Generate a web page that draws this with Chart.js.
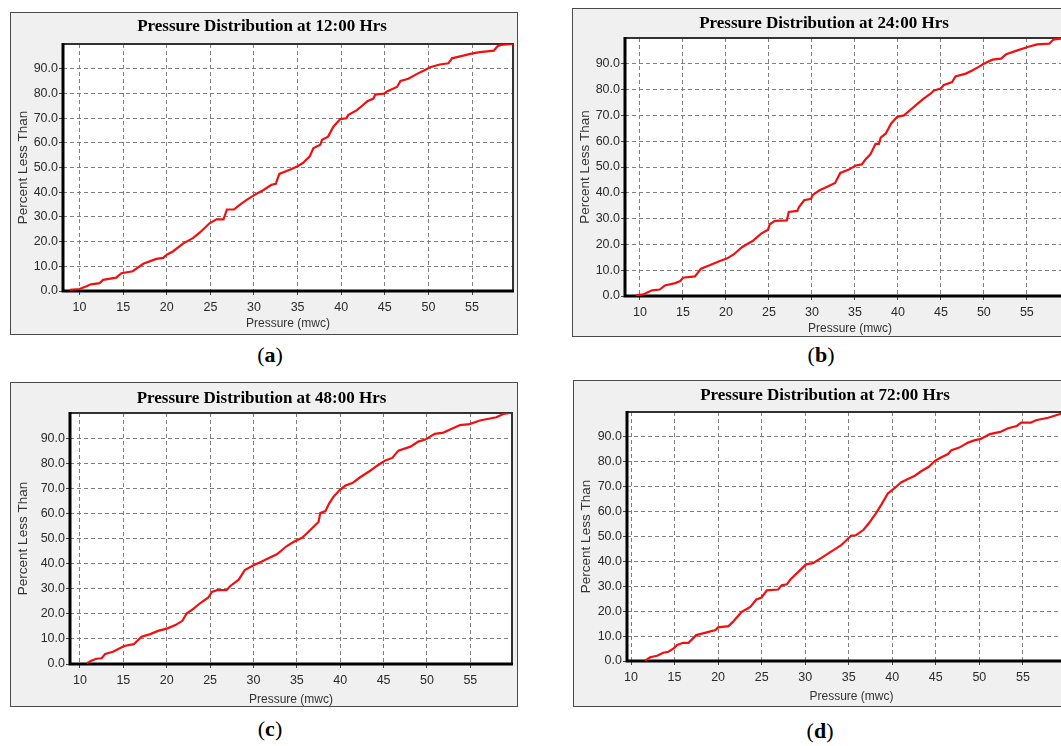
<!DOCTYPE html>
<html>
<head>
<meta charset="utf-8">
<script src="https://cdn.jsdelivr.net/npm/chart.js@4.4.1/dist/chart.umd.min.js"></script>
<style>
  html, body { margin: 0; padding: 0; background: #fff; width: 1061px; height: 746px; overflow: hidden; }
  body { position: relative; }
  .panel { position: absolute; background: #f0f0f0; border: 1px solid #4a4a4a; box-sizing: border-box; }
  .panel canvas { display: block; }
  .cap { position: absolute; width: 60px; margin-left: -30px; text-align: center;
         font-family: "Liberation Serif", "Times New Roman", serif; font-size: 22px; line-height: 24px; color: #000; }
</style>
</head>
<body>
<div class="panel" id="pa" style="left:10px;top:12px;width:508px;height:323px"><canvas id="ca"></canvas></div>
<div class="panel" id="pb" style="left:572px;top:8px;width:508px;height:329px"><canvas id="cb"></canvas></div>
<div class="panel" id="pc" style="left:10px;top:382px;width:508px;height:325px"><canvas id="cc"></canvas></div>
<div class="panel" id="pd" style="left:573px;top:380px;width:508px;height:327px"><canvas id="cd"></canvas></div>
<div class="cap" style="left:270px;top:343px">(<b>a</b>)</div>
<div class="cap" style="left:821px;top:343px">(<b>b</b>)</div>
<div class="cap" style="left:270px;top:717px">(<b>c</b>)</div>
<div class="cap" style="left:820px;top:719px">(<b>d</b>)</div>
<script>
// tick values shared by all four panels
const xTicks = [10, 15, 20, 25, 30, 35, 40, 45, 50, 55];
const yTicks = [0, 10, 20, 30, 40, 50, 60, 70, 80, 90];

// (a) 12:00 Hrs
const pressA = [8.9,10.0,10.8,11.3,12.3,12.7,14.2,14.8,16.1,17.3,18.8,19.6,20.0,20.7,21.9,23.0,23.8,24.9,25.7,26.5,26.9,27.7,28.4,29.2,30.3,31.0,32.0,32.5,32.9,34.1,35.0,35.6,36.4,36.8,37.6,37.8,38.5,39.1,39.9,40.6,40.8,41.8,42.4,43.0,43.7,43.9,44.9,45.3,46.4,46.8,47.7,48.7,49.5,50.2,51.3,52.3,52.7,54.0,54.8,55.9,57.5,57.9,58.3,59.7];
const pctA   = [0.5,0.8,1.9,2.7,3.2,4.5,5.4,7.2,8.0,11.0,13.0,13.4,14.7,16.0,19.3,21.4,23.7,27.4,29.0,29.0,33.0,33.0,35.0,37.0,39.4,40.7,43.0,43.4,47.4,49.1,50.5,51.8,54.5,57.8,59.2,61.2,62.5,66.5,69.6,69.9,71.2,73.2,75.0,76.8,77.9,79.5,79.9,80.9,82.6,85.0,85.9,87.9,89.3,90.6,91.7,92.2,94.2,95.3,96.0,96.7,97.3,99.0,99.6,100];

// (b) 24:00 Hrs
const pressB = [9.5,10.4,10.8,11.4,12.3,12.9,14.1,14.7,15.0,16.4,17.1,18.1,19.3,20.1,20.9,21.9,23.1,24.1,24.9,25.1,25.7,27.1,27.3,28.3,28.5,29.1,29.9,30.1,30.9,31.9,32.7,33.3,34.3,35.1,35.8,36.2,36.8,37.4,37.8,38.0,38.6,39.2,39.9,40.7,41.4,42.2,43.0,43.8,44.2,45.0,45.3,46.3,46.7,47.9,48.7,49.4,50.0,51.0,52.0,52.6,53.9,55.1,56.2,57.6,58.1,58.9,60.0];
const pctB   = [0.3,0.6,1.3,2.2,2.5,4.1,5.0,5.8,7.1,7.6,10.6,11.9,13.6,14.5,16.1,19.0,21.3,24.2,25.7,27.8,29.1,29.3,32.6,33.0,34.5,37.1,37.7,39.2,41.0,42.5,43.8,47.7,49.0,50.6,51.0,52.8,54.9,59.0,59.0,61.4,63.0,66.8,69.4,70.0,72.0,74.3,76.5,78.4,79.7,80.4,81.7,82.9,85.1,86.2,87.5,88.8,90.0,91.6,92.0,93.7,95.2,96.5,97.5,97.8,99.4,99.7,100];

// (c) 48:00 Hrs
const pressC = [10.8,11.3,11.9,12.5,12.9,13.8,15.1,16.2,17.1,18.1,19.0,20.1,21.0,21.8,22.3,23.1,23.8,24.8,25.2,25.8,26.9,27.3,28.3,29.0,30.0,30.9,31.9,32.7,33.8,34.6,35.6,36.2,36.9,37.5,37.7,38.3,38.7,39.2,39.9,40.6,41.4,42.3,43.5,44.3,45.2,46.0,46.7,48.1,49.0,49.8,50.9,51.9,52.8,53.8,54.9,56.1,58.0,58.8,59.6];
const pctC   = [0.3,1.3,2.1,2.3,4.0,4.9,7.2,7.9,10.9,11.9,13.2,14.2,15.5,17.2,20.1,22.1,24.1,26.5,28.7,29.4,29.4,31.0,33.6,37.4,39.3,40.7,42.4,43.7,46.9,48.6,50.3,52.2,54.6,56.6,60.1,60.9,63.8,66.5,69.2,71.1,72.1,74.4,77.1,79.1,81.1,82.1,85.0,86.6,88.6,89.4,91.7,92.2,93.6,95.2,95.6,97.0,98.3,99.6,100];

// (d) 72:00 Hrs
const pressD = [11.6,12.2,13.0,13.7,14.3,14.9,15.3,16.0,16.6,17.5,18.7,19.7,20.0,21.2,21.7,22.7,23.7,24.4,25.0,25.6,26.9,27.3,27.9,28.3,29.4,30.1,30.9,32.0,33.2,34.1,34.7,35.3,35.8,36.7,37.4,38.2,38.8,39.5,40.3,41.0,41.8,42.6,43.4,44.2,44.9,45.6,46.4,46.8,47.7,48.7,49.5,50.1,51.2,52.4,53.3,54.3,54.8,55.9,56.5,57.9,59.2,60.0];
const pctD   = [0.1,1.5,2.1,3.3,3.7,5.1,6.4,7.3,7.3,10.4,11.5,12.4,13.5,14.0,15.7,19.7,21.7,24.7,25.5,28.4,28.7,30.4,30.8,32.7,36.4,38.8,39.3,41.7,44.4,46.4,48.4,50.4,50.4,52.7,55.7,59.7,63.1,67.3,69.5,71.7,73.1,74.4,76.4,78.0,80.4,81.7,83.1,84.7,85.7,87.7,88.7,89.1,91.1,92.0,93.5,94.4,95.7,95.7,96.7,97.7,99.1,100];

const sansFont = '"Liberation Sans", Arial, sans-serif';

// white plot area + frame (thick black on left/bottom like the original)
const framePlugin = {
    id: 'frame',
    beforeDraw(chart) {
        const { ctx, chartArea: a } = chart;
        ctx.save();
        ctx.fillStyle = '#ffffff';
        ctx.fillRect(a.left, a.top, a.right - a.left, a.bottom - a.top);
        ctx.restore();
    },
    beforeDatasetsDraw(chart) {
        const { ctx, chartArea: a } = chart;
        ctx.save();
        ctx.strokeStyle = '#333';
        ctx.lineWidth = 2;
        ctx.beginPath();
        ctx.moveTo(a.left, a.top);
        ctx.lineTo(a.right, a.top);
        ctx.lineTo(a.right, a.bottom);
        ctx.stroke();
        ctx.strokeStyle = '#000';
        ctx.lineWidth = 3;
        ctx.beginPath();
        ctx.moveTo(a.left, a.top - 1);
        ctx.lineTo(a.left, a.bottom);
        ctx.lineTo(a.right + 1, a.bottom);
        ctx.stroke();
        ctx.restore();
    }
};

function makeChart(id, title, press, pct, p) {
    const canvas = document.getElementById(id);
    canvas.width = p.w - 2;
    canvas.height = p.h - 2;
    canvas.style.width = (p.w - 2) + 'px';
    canvas.style.height = (p.h - 2) + 'px';

    const points = press.map((x, i) => ({ x: x, y: pct[i] }));
    const titleTop = p.ty - 10;

    return new Chart(canvas, {
        type: 'line',
        data: {
            datasets: [{
                data: points,
                borderColor: '#f01010',
                borderWidth: 2.2,
                pointRadius: 0,
                tension: 0,
                fill: false
            }]
        },
        options: {
            responsive: false,
            animation: false,
            events: [],
            layout: { padding: { top: 0, right: p.right - 1, left: 0, bottom: 0 } },
            scales: {
                x: {
                    type: 'linear',
                    min: p.xmin,
                    max: p.xmax,
                    afterBuildTicks: s => { s.ticks = xTicks.map(v => ({ value: v })); },
                    afterFit: s => { s.height = p.bottom - 1; },
                    border: { display: false, dash: [4, 3] },
                    grid: { color: '#808080', lineWidth: 1, borderDash: [4, 3], tickBorderDash: [],
                            tickLength: 4, tickColor: '#444', tickWidth: 1 },
                    ticks: { color: '#2a2a2a', padding: 5, maxRotation: 0,
                             font: { family: sansFont, size: 12.5 } },
                    title: { display: true, text: 'Pressure (mwc)', color: '#333',
                             font: { family: sansFont, size: 12 }, padding: { top: 0, bottom: p.xtb } }
                },
                y: {
                    min: 0,
                    max: 100,
                    afterBuildTicks: s => { s.ticks = yTicks.map(v => ({ value: v })); },
                    afterFit: s => { s.width = p.left - 1; },
                    border: { display: false, dash: [4, 3] },
                    grid: { color: '#808080', lineWidth: 1, borderDash: [4, 3], tickBorderDash: [],
                            tickLength: 4, tickColor: '#444', tickWidth: 1 },
                    ticks: { color: '#2a2a2a', padding: 1,
                             font: { family: sansFont, size: 12.5 },
                             callback: v => Number(v).toFixed(1) },
                    title: { display: true, text: 'Percent Less Than', color: '#333',
                             font: { family: sansFont, size: 13.5 }, padding: { top: 4, bottom: 0 } }
                }
            },
            plugins: {
                legend: { display: false },
                tooltip: { enabled: false },
                title: {
                    display: true,
                    text: title,
                    color: '#000',
                    font: { family: '"Liberation Serif", "Times New Roman", serif', size: 17, weight: 'bold' },
                    padding: { top: titleTop, bottom: p.top - 1 - titleTop - 20.4 }
                }
            }
        },
        plugins: [framePlugin]
    });
}

makeChart('ca', 'Pressure Distribution at 12:00 Hrs', pressA, pctA,
    { w: 508, h: 323, left: 53, top: 32, right: 5, bottom: 44, ty: 13, xtb: 3, xmin: 8.1, xmax: 59.7 });
makeChart('cb', 'Pressure Distribution at 24:00 Hrs', pressB, pctB,
    { w: 508, h: 329, left: 53, top: 30, right: 5, bottom: 41, ty: 14, xtb: 0, xmin: 8.26, xmax: 60.6 });
makeChart('cc', 'Pressure Distribution at 48:00 Hrs', pressC, pctC,
    { w: 508, h: 325, left: 60, top: 31, right: 6, bottom: 43, ty: 15, xtb: -1.2, xmin: 8.85, xmax: 59.8 });
makeChart('cd', 'Pressure Distribution at 72:00 Hrs', pressD, pctD,
    { w: 508, h: 327, left: 54, top: 32, right: 5, bottom: 46, ty: 14, xtb: 2, xmin: 9.54, xmax: 61.1 });
</script>
</body>
</html>
